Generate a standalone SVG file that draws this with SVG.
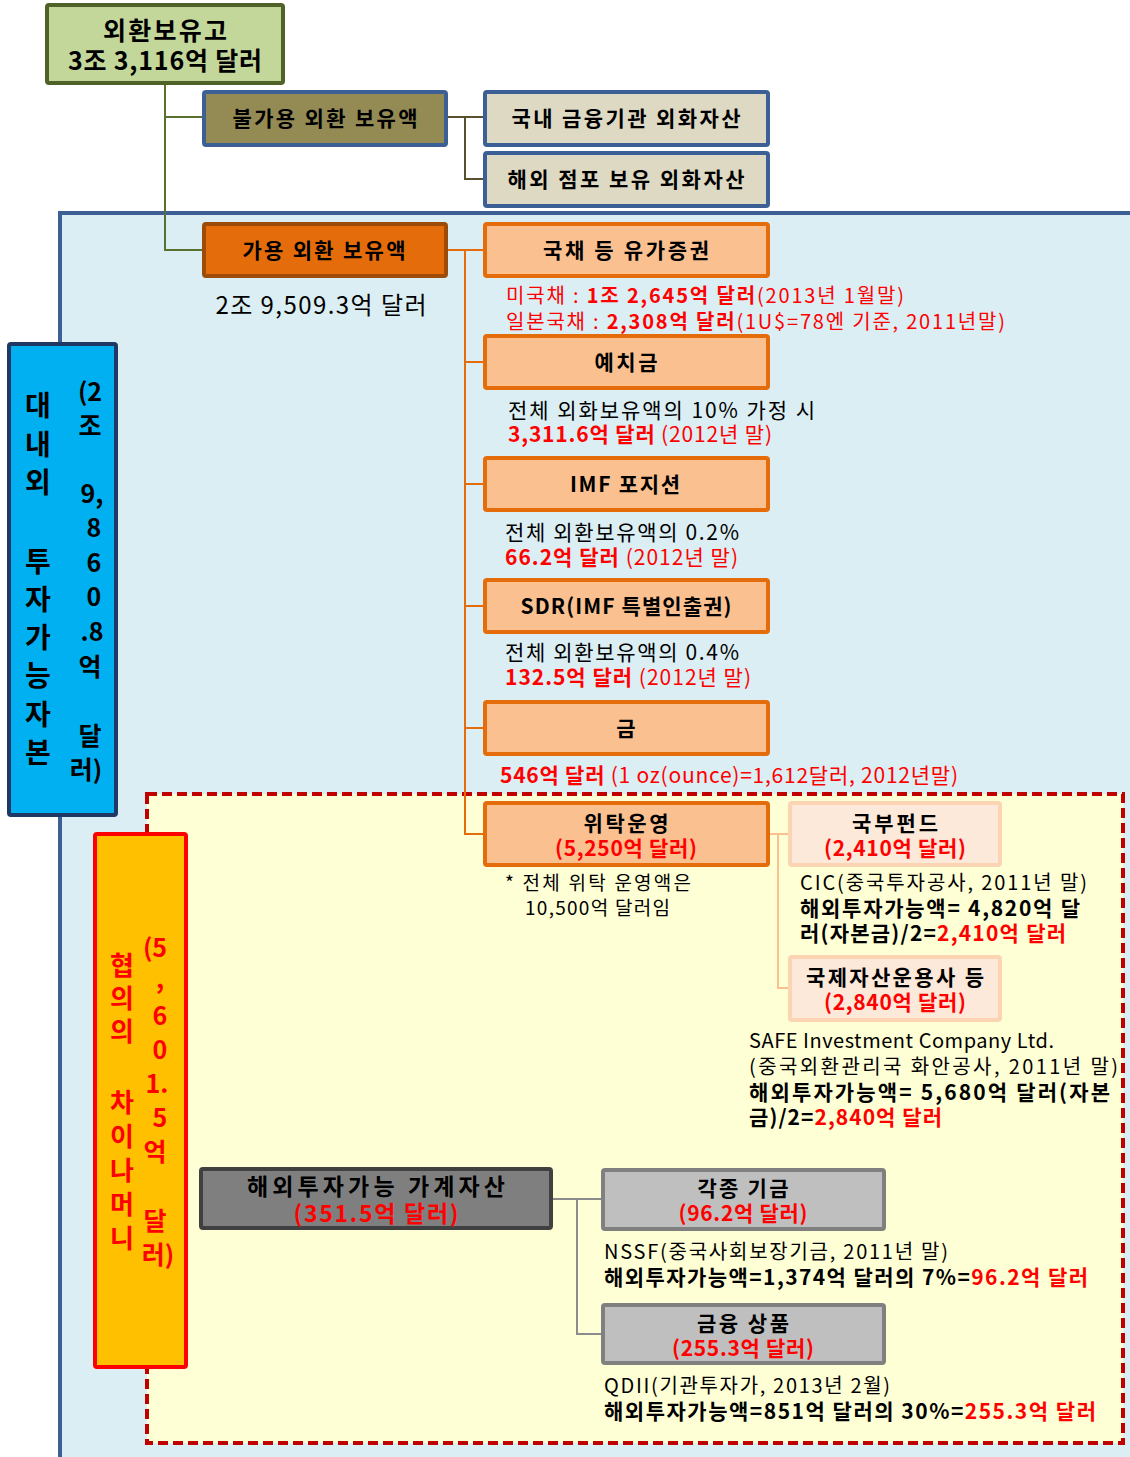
<svg xmlns="http://www.w3.org/2000/svg" width="1130" height="1457" viewBox="0 0 1130 1457">
<style>
text{font-family:"Noto Sans CJK KR","Noto Sans",sans-serif;}
.b{font-weight:bold;}
.r{fill:#ff0000;}
.c{text-anchor:middle;}
.ln{fill:none;stroke-width:2;}
</style>
<rect x="0" y="0" width="1130" height="1457" fill="#ffffff"/>
<g id="region-domestic">
<rect x="60" y="213" width="1080" height="1260" fill="#dbeef4" stroke="#3c6095" stroke-width="4"/>
</g>
<g id="region-chinamoney">
<rect x="147" y="794" width="976" height="649" fill="#ffffd5" stroke="#c00000" stroke-width="4" stroke-dasharray="10 5"/>
</g>
<g id="connectors">
<path class="ln" stroke="#5a7030" d="M165,83 V250 H205 M165,117 H205"/>
<path class="ln" stroke="#5a4e30" d="M446,117 H485 M465,117 V179 H485"/>
<path class="ln" stroke="#e46c0a" d="M446,250 H485 M465,250 V834 H485 M465,362 H485 M465,484 H485 M465,606 H485 M465,728 H485"/>
<path class="ln" stroke="#fac090" d="M768,834 H790 M778,834 V988 H790"/>
<path class="ln" stroke="#8c8c8c" d="M551,1199 H603 M577,1199 V1334 H603"/>
</g>
<g id="n-total">
<rect x="47" y="5" width="236" height="78" rx="2" fill="#c4d79b" stroke="#4f6228" stroke-width="4"/>
<text class="b c" x="165" y="40" font-size="25" textLength="124" lengthAdjust="spacing">외환보유고</text>
<text class="b c" x="165" y="70" font-size="25" textLength="194" lengthAdjust="spacing">3조 3,116억 달러</text>
</g>
<g id="n-unavail">
<rect x="204" y="92" width="242" height="53" rx="2" fill="#948a54" stroke="#3c6095" stroke-width="4"/>
<text class="b c" x="325" y="126" font-size="21" textLength="185" lengthAdjust="spacing">불가용 외환 보유액</text>
</g>
<g id="n-domfin">
<rect x="485" y="92" width="283" height="53" rx="2" fill="#ddd9c3" stroke="#3c6095" stroke-width="4"/>
<text class="b c" x="626" y="126" font-size="21" textLength="229" lengthAdjust="spacing">국내 금융기관 외화자산</text>
</g>
<g id="n-overseas">
<rect x="485" y="153" width="283" height="53" rx="2" fill="#ddd9c3" stroke="#3c6095" stroke-width="4"/>
<text class="b c" x="626" y="187" font-size="21" textLength="237" lengthAdjust="spacing">해외 점포 보유 외화자산</text>
</g>
<g id="n-avail">
<rect x="204" y="224" width="242" height="52" rx="2" fill="#e46c0a" stroke="#9c4b09" stroke-width="4"/>
<text class="b c" x="324" y="258" font-size="21" textLength="163" lengthAdjust="spacing">가용 외환 보유액</text>
<text class="c" x="321" y="314" font-size="24" textLength="211" lengthAdjust="spacing">2조 9,509.3억 달러</text>
</g>
<g id="n-bonds">
<rect x="485" y="224" width="283" height="52" rx="2" fill="#fac090" stroke="#e46c0a" stroke-width="4"/>
<text class="b c" x="626" y="258" font-size="21" textLength="166" lengthAdjust="spacing">국채 등 유가증권</text>
<text class="r" x="506" y="303" font-size="20" textLength="398" lengthAdjust="spacing">미국채 : <tspan class="b">1조 2,645억 달러</tspan>(2013년 1월말)</text>
<text class="r" x="506" y="329" font-size="20" textLength="499" lengthAdjust="spacing">일본국채 : <tspan class="b">2,308억 달러</tspan>(1U$=78엔 기준, 2011년말)</text>
</g>
<g id="n-deposit">
<rect x="485" y="336" width="283" height="52" rx="2" fill="#fac090" stroke="#e46c0a" stroke-width="4"/>
<text class="b c" x="626" y="370" font-size="21" textLength="63" lengthAdjust="spacing">예치금</text>
<text x="508" y="418" font-size="21" textLength="307" lengthAdjust="spacing">전체 외화보유액의 10% 가정 시</text>
<text class="r" x="508" y="442" font-size="21" textLength="264" lengthAdjust="spacing"><tspan class="b">3,311.6억 달러</tspan> (2012년 말)</text>
</g>
<g id="n-imf">
<rect x="485" y="458" width="283" height="52" rx="2" fill="#fac090" stroke="#e46c0a" stroke-width="4"/>
<text class="b c" x="625" y="492" font-size="21" textLength="110" lengthAdjust="spacing">IMF 포지션</text>
<text x="505" y="540" font-size="21" textLength="234" lengthAdjust="spacing">전체 외환보유액의 0.2%</text>
<text class="r" x="505" y="565" font-size="21" textLength="233" lengthAdjust="spacing"><tspan class="b">66.2억 달러</tspan> (2012년 말)</text>
</g>
<g id="n-sdr">
<rect x="485" y="580" width="283" height="52" rx="2" fill="#fac090" stroke="#e46c0a" stroke-width="4"/>
<text class="b c" x="626" y="614" font-size="21" textLength="211" lengthAdjust="spacing">SDR(IMF 특별인출권)</text>
<text x="505" y="660" font-size="21" textLength="234" lengthAdjust="spacing">전체 외환보유액의 0.4%</text>
<text class="r" x="505" y="685" font-size="21" textLength="246" lengthAdjust="spacing"><tspan class="b">132.5억 달러</tspan> (2012년 말)</text>
</g>
<g id="n-gold">
<rect x="485" y="702" width="283" height="52" rx="2" fill="#fac090" stroke="#e46c0a" stroke-width="4"/>
<text class="b c" x="626" y="736" font-size="21">금</text>
<text class="r" x="500" y="783" font-size="21" textLength="458" lengthAdjust="spacing"><tspan class="b">546억 달러</tspan> (1 oz(ounce)=1,612달러, 2012년말)</text>
</g>
<g id="n-capital">
<rect x="9" y="344" width="107" height="471" rx="2" fill="#00b0f0" stroke="#1f3864" stroke-width="4"/>
<text class="b c" font-size="28"><tspan x="38" y="416">대</tspan><tspan x="38" y="455">내</tspan><tspan x="38" y="493">외</tspan><tspan x="38" y="572">투</tspan><tspan x="38" y="610">자</tspan><tspan x="38" y="648">가</tspan><tspan x="38" y="686">능</tspan><tspan x="38" y="725">자</tspan><tspan x="38" y="763">본</tspan></text>
<text class="b c" font-size="25"><tspan x="90" y="401">(2</tspan><tspan x="90" y="435">조</tspan><tspan x="92" y="503">9,</tspan><tspan x="94" y="537">8</tspan><tspan x="94" y="572">6</tspan><tspan x="94" y="606">0</tspan><tspan x="92" y="641">.8</tspan><tspan x="90" y="676">억</tspan><tspan x="90" y="745">달</tspan><tspan x="86" y="779">러)</tspan></text>
</g>
<g id="n-trust">
<rect x="485" y="803" width="283" height="62" rx="2" fill="#fac090" stroke="#e46c0a" stroke-width="4"/>
<text class="b c" x="626" y="831" font-size="21" textLength="85" lengthAdjust="spacing">위탁운영</text>
<text class="b c r" x="626" y="856" font-size="21" textLength="142" lengthAdjust="spacing">(5,250억 달러)</text>
<text x="505" y="890" font-size="19" textLength="186" lengthAdjust="spacing">* 전체 위탁 운영액은</text>
<text x="525" y="915" font-size="19" textLength="145" lengthAdjust="spacing">10,500억 달러임</text>
</g>
<g id="n-swf">
<rect x="790" y="803" width="210" height="62" rx="2" fill="#fde9d9" stroke="#fbd4b4" stroke-width="4"/>
<text class="b c" x="895" y="831" font-size="21" textLength="86" lengthAdjust="spacing">국부펀드</text>
<text class="b c r" x="895" y="856" font-size="21" textLength="142" lengthAdjust="spacing">(2,410억 달러)</text>
<text x="800" y="890" font-size="20" textLength="287" lengthAdjust="spacing">CIC(중국투자공사, 2011년 말)</text>
<text class="b" x="800" y="916" font-size="21" textLength="280" lengthAdjust="spacing">해외투자가능액= 4,820억 달</text>
<text class="b" x="800" y="941" font-size="21" textLength="266" lengthAdjust="spacing">러(자본금)/2=<tspan class="r">2,410억 달러</tspan></text>
</g>
<g id="n-intl">
<rect x="790" y="957" width="210" height="63" rx="2" fill="#fde9d9" stroke="#fbd4b4" stroke-width="4"/>
<text class="b c" x="895" y="985" font-size="21" textLength="178" lengthAdjust="spacing">국제자산운용사 등</text>
<text class="b c r" x="895" y="1010" font-size="21" textLength="142" lengthAdjust="spacing">(2,840억 달러)</text>
<text x="749" y="1048" font-size="20" textLength="305" lengthAdjust="spacing">SAFE Investment Company Ltd.</text>
<text x="749" y="1074" font-size="20" textLength="369" lengthAdjust="spacing">(중국외환관리국 화안공사, 2011년 말)</text>
<text class="b" x="749" y="1100" font-size="21" textLength="361" lengthAdjust="spacing">해외투자가능액=  5,680억  달러(자본</text>
<text class="b" x="749" y="1125" font-size="21" textLength="193" lengthAdjust="spacing">금)/2=<tspan class="r">2,840억 달러</tspan></text>
</g>
<g id="n-china">
<rect x="95" y="834" width="91" height="533" rx="2" fill="#ffc000" stroke="#ff0000" stroke-width="4"/>
<text class="b c r" font-size="26"><tspan x="122" y="975">협</tspan><tspan x="122" y="1008">의</tspan><tspan x="122" y="1041">의</tspan><tspan x="122" y="1112">차</tspan><tspan x="122" y="1146">이</tspan><tspan x="122" y="1180">나</tspan><tspan x="122" y="1214">머</tspan><tspan x="122" y="1248">니</tspan></text>
<text class="b c r" font-size="25"><tspan x="155" y="957">(5</tspan><tspan x="160" y="988">,</tspan><tspan x="160" y="1025">6</tspan><tspan x="160" y="1059">0</tspan><tspan x="157" y="1093">1.</tspan><tspan x="160" y="1127">5</tspan><tspan x="155" y="1161">억</tspan><tspan x="155" y="1230">달</tspan><tspan x="158" y="1264">러)</tspan></text>
</g>
<g id="n-household">
<rect x="201" y="1169" width="350" height="59" rx="2" fill="#7f7f7f" stroke="#404040" stroke-width="4"/>
<text class="b c" x="376" y="1195" font-size="23" textLength="258" lengthAdjust="spacing">해외투자가능 가계자산</text>
<text class="b c r" x="376" y="1222" font-size="23" textLength="165" lengthAdjust="spacing">(351.5억 달러)</text>
</g>
<g id="n-funds">
<rect x="603" y="1170" width="281" height="59" rx="2" fill="#bfbfbf" stroke="#808080" stroke-width="4"/>
<text class="b c" x="743" y="1196" font-size="21" textLength="91" lengthAdjust="spacing">각종 기금</text>
<text class="b c r" x="743" y="1221" font-size="21" textLength="129" lengthAdjust="spacing">(96.2억 달러)</text>
<text x="604" y="1259" font-size="20" textLength="344" lengthAdjust="spacing">NSSF(중국사회보장기금, 2011년 말)</text>
<text class="b" x="604" y="1285" font-size="21" textLength="484" lengthAdjust="spacing">해외투자가능액=1,374억 달러의 7%=<tspan class="r">96.2억 달러</tspan></text>
</g>
<g id="n-products">
<rect x="603" y="1305" width="281" height="58" rx="2" fill="#bfbfbf" stroke="#808080" stroke-width="4"/>
<text class="b c" x="743" y="1331" font-size="21" textLength="92" lengthAdjust="spacing">금융 상품</text>
<text class="b c r" x="743" y="1356" font-size="21" textLength="142" lengthAdjust="spacing">(255.3억 달러)</text>
<text x="604" y="1393" font-size="20" textLength="286" lengthAdjust="spacing">QDII(기관투자가, 2013년 2월)</text>
<text class="b" x="604" y="1419" font-size="21" textLength="492" lengthAdjust="spacing">해외투자가능액=851억 달러의 30%=<tspan class="r">255.3억 달러</tspan></text>
</g>
</svg>
